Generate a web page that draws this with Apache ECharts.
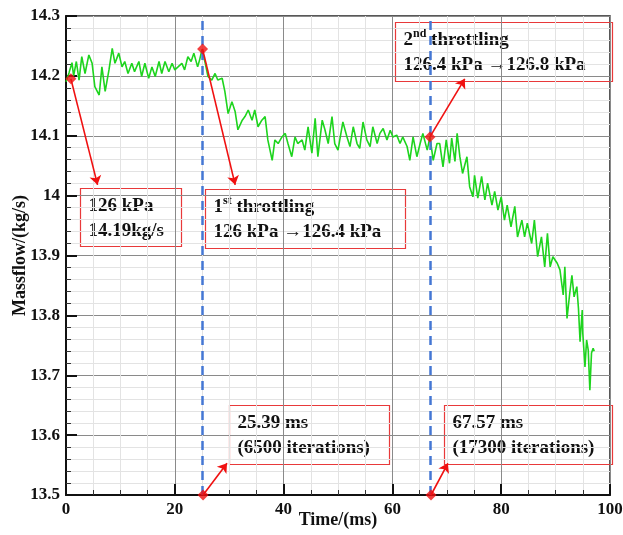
<!DOCTYPE html>
<html>
<head>
<meta charset="utf-8">
<script src="https://cdn.jsdelivr.net/npm/echarts@6/dist/echarts.min.js"></script>
<style>
  html, body { margin: 0; padding: 0; background: #fff; }
  #chart { width: 623px; height: 535px; }
</style>
</head>
<body>
<div id="chart"></div>
<script>
// time (ms) and massflow (kg/s)
const time = [
  0, 0.55, 1.1, 1.4, 1.9, 2.4, 2.9, 3.5, 4.2, 4.8, 5.3, 6.1, 6.6, 7.2, 7.9, 8.5, 9.0, 9.7,
  10.3, 10.8, 11.4, 12.1, 12.6, 13.4, 13.9, 14.5, 15.2, 15.8, 16.4, 17.1, 17.6, 18.2, 18.9,
  19.5, 20.0, 20.6, 21.3, 21.8, 22.4, 23.0, 23.5, 24.2, 24.6, 25.0, 25.6, 26.1, 26.8, 27.4,
  27.9, 28.7, 29.2, 29.8, 30.5, 31.1, 31.6, 32.4, 32.9, 33.5, 34.2, 34.7, 35.3, 36.0, 36.6,
  37.1, 37.9, 38.4, 39.0, 39.7, 40.3, 40.8, 41.5, 42.1, 42.6, 43.4, 43.9, 44.5, 45.2, 45.8,
  46.3, 47.1, 47.6, 48.2, 48.9, 49.4, 50.0, 50.9, 51.65, 52.2, 52.8, 53.5, 54.0, 54.6, 55.3,
  55.9, 56.4, 57.2, 57.7, 58.3, 59.0, 59.6, 60.1, 60.8, 61.4, 61.9, 62.7, 63.2, 63.8, 64.5,
  65.1, 65.6, 66.4, 66.9, 67.5, 68.2, 68.7, 69.3, 69.9, 70.5, 70.9, 71.5, 71.9, 72.4, 72.9,
  73.7, 74.2, 74.8, 75.1, 75.7, 76.4, 77.0, 77.5, 78.3, 78.8, 79.4, 80.0, 80.6, 81.1, 81.8,
  82.5, 83.0, 83.8, 84.3, 84.8, 85.6, 86.1, 86.7, 87.4, 88.0, 88.5, 89.0, 89.5, 90.3, 90.8,
  91.4, 91.7, 92.1, 92.6, 93.0, 93.4, 93.9, 94.2, 94.5, 94.9, 95.0, 95.4, 95.7, 96.0, 96.3,
  96.6, 96.9, 97.1
];
const massflow = [
  14.19, 14.205, 14.222, 14.2, 14.224, 14.193, 14.232, 14.204, 14.235, 14.221, 14.182, 14.168,
  14.215, 14.174, 14.21, 14.246, 14.221, 14.238, 14.215, 14.224, 14.204, 14.221, 14.207, 14.224,
  14.199, 14.221, 14.196, 14.215, 14.199, 14.224, 14.204, 14.224, 14.207, 14.221, 14.21, 14.215,
  14.221, 14.21, 14.232, 14.224, 14.238, 14.215, 14.228, 14.244, 14.221, 14.199, 14.193, 14.204,
  14.193, 14.196, 14.174, 14.137, 14.157, 14.14, 14.11, 14.126, 14.132, 14.143, 14.126, 14.143,
  14.115, 14.126, 14.132, 14.093, 14.059, 14.093, 14.087, 14.098, 14.104, 14.087, 14.065, 14.098,
  14.087, 14.093, 14.076, 14.115, 14.071, 14.129, 14.065, 14.126, 14.11, 14.087, 14.132, 14.087,
  14.076, 14.123, 14.098, 14.082, 14.115, 14.087, 14.079, 14.123, 14.093, 14.082, 14.115, 14.087,
  14.104, 14.112, 14.093, 14.109, 14.098, 14.101, 14.087, 14.098, 14.082, 14.059, 14.098, 14.065,
  14.087, 14.104, 14.076, 14.098, 14.059, 14.087, 14.087, 14.048, 14.093, 14.054, 14.096, 14.057,
  14.104, 14.065, 14.037, 14.065, 14.015, 13.998, 14.034, 13.996, 14.032, 13.993, 14.021, 13.984,
  14.007, 13.976, 13.998, 13.959, 13.984, 13.948, 13.982, 13.931, 13.959, 13.931, 13.954, 13.92,
  13.959, 13.898, 13.931, 13.881, 13.937, 13.881, 13.898, 13.887, 13.876, 13.834, 13.881, 13.795,
  13.837, 13.867, 13.831, 13.848, 13.812, 13.756, 13.809, 13.77, 13.714, 13.759, 13.742, 13.675,
  13.737, 13.745, 13.74
];

// throttling instants (dashed lines) and annotation anchors
const throttleTimes = [25.1, 66.9];
const markerPoints = [[0.9, 14.195], [25.1, 14.245], [66.9, 14.098], [25.2, 13.5], [67.1, 13.5]];
const arrowEnds = [[5.8, 14.018], [31.1, 14.018], [73.3, 14.195], [29.6, 13.553], [70.2, 13.553]];
const noteTexts = [
  '{n|126 kPa}\n{n|14.19kg/s}',
  '{n|1}{s|st}{n| throttling}\n{n|126 kPa \u2192126.4 kPa}',
  '{n|2}{s|nd}{n| throttling}\n{n|126.4 kPa \u2192126.8 kPa}',
  '{n|25.39 ms}\n{n|(6500 iterations)}',
  '{n|67.57 ms}\n{n|(17300 iterations)}'
];
// box layout [left, top, width, height] in px
const noteBoxes = [
  [78, 186, 101, 58],
  [203, 187, 200, 59],
  [393, 20, 217, 59],
  [227, 403, 160, 59],
  [442, 403, 168, 59]
];

const serif = '"Liberation Serif", "Times New Roman", serif';
const richStyle = {
  n: { fontFamily: serif, fontWeight: 'bold', fontSize: 19, lineHeight: 25, fill: '#111' },
  s: { fontFamily: serif, fontWeight: 'bold', fontSize: 12, lineHeight: 25, verticalAlign: 'top', fill: '#111' }
};

const chart = echarts.init(document.getElementById('chart'));

const graphics = noteBoxes.map((b, i) => ({
  type: 'group',
  left: b[0],
  top: b[1],
  children: [
    {
      type: 'rect',
      shape: { x: 0, y: 0, width: b[2], height: b[3] },
      style: { fill: 'none', stroke: '#e8393a', lineWidth: 1.2 }
    },
    {
      type: 'text',
      x: 8,
      y: b[3] / 2 + 1,
      style: {
        text: noteTexts[i],
        rich: richStyle,
        verticalAlign: 'middle',
        align: 'left'
      }
    }
  ]
}));

chart.setOption({
  animation: false,
  grid: {
    left: 66, right: 13, top: 16, bottom: 40,
    containLabel: false,
    outerBoundsMode: 'none',
    show: true, borderColor: '#222', borderWidth: 1.5
  },
  xAxis: {
    type: 'value',
    min: 0, max: 100, interval: 20,
    name: 'Time/(ms)',
    nameLocation: 'middle',
    nameGap: 16,
    nameMoveOverlap: false,
    nameTextStyle: { fontFamily: serif, fontWeight: 'bold', fontSize: 18, color: '#111' },
    axisLine: { lineStyle: { color: '#111', width: 2 } },
    axisTick: { inside: true, length: 11, lineStyle: { color: '#111', width: 2 } },
    minorTick: { show: true, splitNumber: 4, length: 5, lineStyle: { color: '#333', width: 1 } },
    axisLabel: { fontFamily: serif, fontWeight: 'bold', fontSize: 17, color: '#111', margin: 6 },
    splitLine: { show: true, lineStyle: { color: '#8a8a8a', width: 1 } },
    minorSplitLine: { show: true, lineStyle: { color: '#e3e3e3', width: 1 } }
  },
  yAxis: {
    type: 'value',
    min: 13.5, max: 14.3, interval: 0.1,
    name: 'Massflow/(kg/s)',
    nameLocation: 'middle',
    nameGap: 37,
    nameMoveOverlap: false,
    nameTextStyle: { fontFamily: serif, fontWeight: 'bold', fontSize: 18, color: '#111' },
    axisLine: { lineStyle: { color: '#111', width: 2 } },
    axisTick: { inside: true, length: 11, lineStyle: { color: '#111', width: 2 } },
    minorTick: { show: true, splitNumber: 5, length: 5, lineStyle: { color: '#333', width: 1 } },
    axisLabel: { fontFamily: serif, fontWeight: 'bold', fontSize: 17, color: '#111', margin: 6 },
    splitLine: { show: true, lineStyle: { color: '#8a8a8a', width: 1 } },
    minorSplitLine: { show: true, lineStyle: { color: '#e3e3e3', width: 1 } }
  },
  series: [
    {
      name: 'massflow',
      type: 'line',
      data: time.map((t, i) => [t, massflow[i]]),
      showSymbol: false,
      lineStyle: { color: '#1ed41e', width: 1.6 },
      markLine: {
        silent: true,
        symbol: 'none',
        label: { show: false },
        lineStyle: { color: '#4477d4', type: [9, 6], width: 2.5 },
        data: throttleTimes.map((t) => ({ xAxis: t }))
      }
    },
    {
      name: 'notes',
      type: 'scatter',
      data: markerPoints,
      symbol: 'diamond',
      symbolSize: 11,
      clip: false,
      itemStyle: { color: '#f01010' },
      z: 5,
      markLine: {
        silent: true,
        symbol: ['none', 'arrow'],
        symbolSize: 9,
        label: { show: false },
        lineStyle: { color: '#f01010', type: 'solid', width: 1.6 },
        data: markerPoints.map((p, i) => [{ coord: p }, { coord: arrowEnds[i] }])
      }
    }
  ],
  graphic: graphics
});
</script>
</body>
</html>
